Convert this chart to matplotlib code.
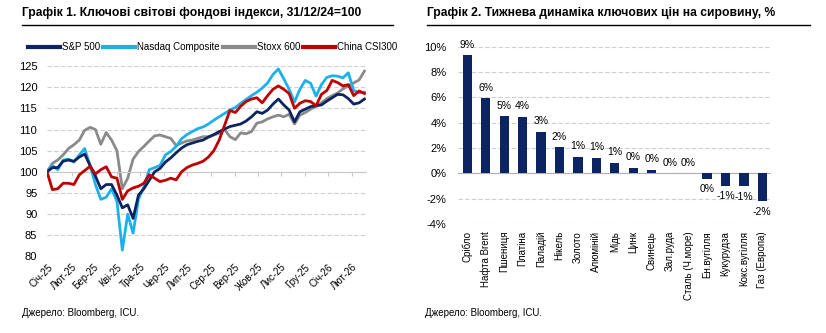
import pandas as pd
import matplotlib
matplotlib.use('Agg')
import matplotlib.pyplot as plt
import matplotlib.dates as mdates
from matplotlib.lines import Line2D

plt.rcParams['font.family'] = ['Liberation Sans', 'DejaVu Sans']

# ---- chart 1: weekly index levels, 31/12/24 = 100
dates = pd.date_range('2024-12-31', periods=60, freq='7D')
spx = [100, 101, 101, 102.5, 102.8, 102.5, 103.5, 104.2, 101.5, 99,
       96, 97, 97, 94.5, 91.5, 92.2, 89, 94.5, 96, 98,
       100, 100.8, 102.3, 103.3, 104.5, 105.6, 106.4, 106.8, 107.2, 107.5,
       108.2, 108.8, 109.5, 110.1, 110.7, 111, 111.3, 112, 113, 114.2,
       113.8, 114.6, 116, 117.2, 115.8, 114.6, 111.8, 114.2, 114.8, 115.4,
       115.6, 115.8, 116.7, 117.5, 118.3, 118.2, 117.3, 116, 116.3, 117.2]
ndq = [100, 101.5, 100.5, 102.8, 103, 102.3, 104, 105.5, 101.5, 97,
       93.5, 94, 96, 93, 81.5, 90, 85.5, 93.5, 96.5, 100.5,
       101, 101.5, 104, 104.8, 106, 107.8, 108.8, 109.5, 110.2, 110.6,
       111.3, 112.2, 113, 113.8, 114.6, 115.2, 116.2, 117.1, 118, 118.8,
       119.8, 121, 123, 124.3, 122, 119.5, 116.5, 119.5, 121.6, 120.9,
       117.9, 120.6, 122.3, 122.7, 122.6, 122.2, 123.4, 119.2, 118.7, 118.8]
stoxx = [100, 102, 102.8, 104, 105.5, 106.4, 107.5, 109.8, 110.5, 110,
         106.5, 109.3, 107.5, 105, 96, 98.5, 103, 104.8, 106, 107.3,
         108.5, 108.7, 108.3, 107.9, 106.2, 106.8, 107.3, 107.5, 107.9, 108.3,
         108.3, 108.7, 109.1, 110, 108.3, 107.6, 109.2, 109, 109.5, 111.5,
         111.8, 112.5, 113, 113.4, 113, 113.6, 111.3, 113.4, 114, 114.8,
         115.5, 116.3, 117.3, 118, 118.6, 119.6, 120.3, 121, 121.7, 123.8]
csi = [100, 95.8, 96, 97.3, 97.3, 97, 99.3, 100.3, 101.3, 99.5,
       100.5, 101.2, 98.8, 98.5, 93.5, 95.5, 96.2, 96.6, 97.3, 99.3,
       98.5, 97.7, 98, 98.5, 98.1, 100, 101, 101.6, 102, 102.5,
       103.5, 105, 107.5, 111, 114.5, 114, 115.5, 116.6, 117.2, 117.5,
       116.3, 118, 119.5, 120.3, 119.5, 118.5, 115, 116.2, 116.8, 116.6,
       115.6, 118.3, 119.2, 121.6, 121.1, 120.3, 120.6, 118, 119.1, 118.5]
month_labels = ['Січ-25', 'Лют-25', 'Бер-25', 'Кві-25', 'Тра-25', 'Чер-25', 'Лип-25',
                'Сер-25', 'Вер-25', 'Жов-25', 'Лис-25', 'Гру-25', 'Січ-26', 'Лют-26']

# ---- chart 2: weekly change of commodity prices, %
commodities = ['Срібло', 'Нафта Brent', 'Пшениця', 'Платіна', 'Паладій', 'Нікель',
               'Золото', 'Алюміній', 'Мідь', 'Цинк', 'Свинець', 'Зал.руда',
               'Сталь (Ч.море)', 'Ен.вугілля', 'Кукурудза', 'Кокс.вугілля', 'Газ (Европа)']
changes = [9.34, 5.92, 4.52, 4.45, 3.29, 2.05, 1.29, 1.21, 0.82, 0.42, 0.29, 0.0,
           0.0, -0.42, -0.97, -1.0, -2.21]

navy = '#0c2461'
lblue = '#1cb1ec'
grey = '#8a8a8a'
red = '#c00000'
gridc = '#cfcfcf'

fig = plt.figure(figsize=(8.26, 3.33), dpi=100)
W, H = 826, 333

def fx(px):
    return px / W

def fy(py):
    return 1 - py / H

# titles + rules
fig.text(fx(22), fy(13), 'Графік 1. Ключові світові фондові індекси, 31/12/24=100',
         fontsize=8.7, fontweight='bold', va='center', ha='left')
fig.text(fx(427), fy(13), 'Графік 2. Тижнева динаміка ключових цін на сировину, %',
         fontsize=8.7, fontweight='bold', va='center', ha='left')
fig.add_artist(Line2D([fx(22), fx(393)], [fy(25), fy(25)], color='black', lw=1))
fig.add_artist(Line2D([fx(427), fx(810)], [fy(25), fy(25)], color='black', lw=1))
fig.text(fx(22), fy(313), 'Джерело: Bloomberg, ICU.', fontsize=7, va='center', ha='left')
fig.text(fx(425), fy(313), 'Джерело: Bloomberg, ICU.', fontsize=7, va='center', ha='left')

# ---- left chart
ax1 = fig.add_axes([fx(47), fy(256.5), fx(366 - 47), (256.5 - 66) / H])
ax1.plot(dates, ndq, color=lblue, lw=2.0, label='Nasdaq Composite', zorder=3)
ax1.plot(dates, stoxx, color=grey, lw=2.0, label='Stoxx 600', zorder=2)
ax1.plot(dates, spx, color=navy, lw=2.0, label='S&P 500', zorder=4)
ax1.plot(dates, csi, color=red, lw=2.0, label='China CSI300', zorder=5)
ax1.set_ylim(80, 125)
ax1.set_yticks(range(80, 126, 5))
ax1.set_xlim(pd.Timestamp('2024-12-31'), pd.Timestamp('2026-02-19'))
ax1.grid(axis='y', color=gridc, ls=(0, (4, 2)), lw=0.8)
ax1.set_axisbelow(True)
for s in ['top', 'right', 'left']:
    ax1.spines[s].set_visible(False)
ax1.spines['bottom'].set_position(('data', 100))
ax1.spines['bottom'].set_color('#c8c8c8')
months = pd.date_range('2025-01-01', periods=14, freq='MS')
ax1.set_xticks(months)
ax1.tick_params(axis='x', labelbottom=False, length=3, color='#c8c8c8', direction='out')
ax1.tick_params(axis='y', length=0, labelsize=8, pad=7)
sec = ax1.secondary_xaxis('bottom')
sec.set_xticks(mdates.date2num(months))
sec.set_xticklabels(month_labels, rotation=45, ha='right', rotation_mode='anchor', fontsize=7)
sec.tick_params(length=0, pad=4)
sec.spines['bottom'].set_visible(False)

h, l = ax1.get_legend_handles_labels()
order = [2, 0, 1, 3]
fig.legend([h[i] for i in order], [l[i] for i in order], loc='center left',
           bbox_to_anchor=(fx(24), fy(47)), ncol=4, frameon=False, fontsize=7,
           handlelength=3.3, handletextpad=0.2, columnspacing=0.3, borderaxespad=0)
for line in fig.legends[0].get_lines():
    line.set_linewidth(3)

# ---- right chart
ax2 = fig.add_axes([fx(457.7), fy(224), fx(771 - 457.7), (224 - 46.7) / H])
pos = range(len(commodities))
bars = ax2.bar(pos, changes, width=0.5, color=navy, zorder=3)
ax2.set_ylim(-4, 10)
ax2.set_xlim(-0.52, 16.47)
ax2.set_yticks(range(-4, 11, 2))
ax2.set_yticklabels([f'{v}%' for v in range(-4, 11, 2)])
ax2.grid(axis='y', color=gridc, ls=(0, (4, 2)), lw=0.8)
ax2.axhline(0, color='#b0b0b0', lw=0.8, zorder=2)
ax2.set_axisbelow(True)
for s in ax2.spines.values():
    s.set_visible(False)
ax2.set_xticks(list(pos))
ax2.set_xticklabels(commodities, rotation=90, fontsize=7)
ax2.tick_params(axis='x', length=0, pad=5)
ax2.tick_params(axis='y', length=0, labelsize=8, pad=8)
for b, v in zip(bars, changes):
    lab = f'{round(v)}%'
    if v >= 0:
        ax2.annotate(lab, (b.get_x() + b.get_width() / 2, v), xytext=(0, 4),
                     textcoords='offset points', ha='center', va='bottom', fontsize=7.5)
    else:
        ax2.annotate(lab, (b.get_x() + b.get_width() / 2, v), xytext=(0, -4),
                     textcoords='offset points', ha='center', va='top', fontsize=7.5)

fig.savefig('out.png', dpi=100)
